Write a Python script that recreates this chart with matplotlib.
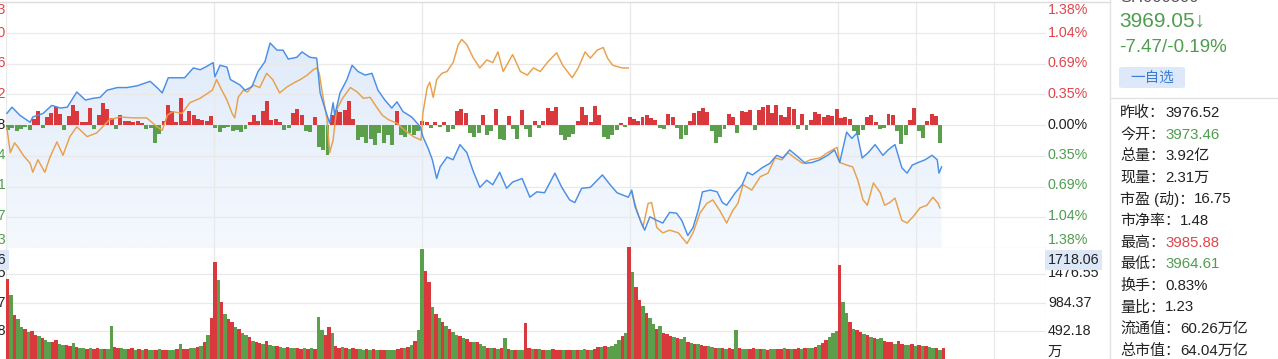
import numpy as np
import matplotlib
matplotlib.use("Agg")
import matplotlib.pyplot as plt
from matplotlib.colors import LinearSegmentedColormap
from matplotlib.patches import FancyBboxPatch
from matplotlib.lines import Line2D

plt.rcParams['font.family'] = ['Liberation Sans', 'Noto Sans CJK SC', 'DejaVu Sans']

# 5 trading days, 241 minutes each -> minute index 0..1204
N_MIN = 1205
DAY_LINES = [241, 482, 723, 964, 1054, 1145]

# index line (blue), minute index and % change
blue_t = [1, 7, 16, 28, 31, 43, 53, 63, 71, 82, 92, 101, 109, 117, 129, 140, 152, 167, 175, 181, 188, 198, 207, 217, 225, 233, 240,
          242, 248, 256, 260, 271, 277, 285, 292, 300, 306, 314, 321, 327, 337, 343, 352, 360, 364, 370, 375, 379, 381, 387, 395, 401,
          408, 416, 424, 431, 439, 447, 453, 460, 470, 480,
          483, 489, 494, 499, 503, 511, 518, 526, 534, 541, 549, 557, 564, 572, 580, 587, 598, 607, 615, 624, 636, 644, 653, 659, 667,
          677, 691, 700, 708, 721,
          725, 729, 735, 740, 746, 754, 761, 769, 777, 783, 790, 796, 802, 807, 816, 824, 830, 835, 845, 853, 859, 865, 876, 885, 893,
          900, 908, 918, 926, 934, 943, 952, 960,
          966, 974, 980, 986, 992, 999, 1007, 1016, 1022, 1030, 1038, 1044, 1050, 1057, 1065, 1073, 1079, 1081, 1084]
blue_v = [0.13, 0.20, 0.11, 0.03, 0.09, 0.13, 0.22, 0.19, 0.20, 0.37, 0.28, 0.30, 0.31, 0.39, 0.42, 0.42, 0.44, 0.49, 0.42, 0.36, 0.53,
          0.53, 0.53, 0.64, 0.62, 0.66, 0.70,
          0.54, 0.67, 0.65, 0.51, 0.45, 0.39, 0.43, 0.60, 0.71, 0.92, 0.84, 0.84, 0.74, 0.76, 0.82, 0.76, 0.75, 0.36, 0.17, 0.02, 0.25,
          0.11, 0.36, 0.51, 0.67, 0.60, 0.56, 0.58, 0.39, 0.28, 0.19, 0.26, 0.15, 0.09, -0.02,
          -0.13, -0.26, -0.39, -0.60, -0.47, -0.36, -0.39, -0.22, -0.31, -0.51, -0.70, -0.62, -0.67, -0.53, -0.71, -0.64, -0.60, -0.81,
          -0.75, -0.76, -0.54, -0.70, -0.84, -0.87, -0.71, -0.70, -0.56, -0.67, -0.76, -0.81,
          -0.73, -0.92, -1.07, -1.18, -1.03, -1.07, -1.10, -0.98, -0.99, -1.07, -1.24, -1.15, -0.96, -0.75, -0.73, -0.75, -0.87, -0.90,
          -0.76, -0.67, -0.53, -0.56, -0.48, -0.43, -0.34, -0.37, -0.28, -0.36, -0.43, -0.42, -0.39, -0.34, -0.28,
          -0.42, -0.08, -0.15, -0.09, -0.37, -0.31, -0.22, -0.34, -0.28, -0.22, -0.48, -0.54, -0.45, -0.42, -0.39, -0.34, -0.39, -0.54,
          -0.47]

# comparison line (orange), broken between day 3 and day 4
orange_t = [1, 5, 10, 14, 20, 28, 31, 37, 45, 51, 59, 66, 74, 82, 94, 105, 112, 120, 132, 147, 163, 175, 181, 187, 193, 204, 213, 225, 239,
            244, 250, 256, 262, 265, 269, 275, 280, 286, 294, 302, 309, 317, 326, 333, 341, 349, 356, 360, 363, 366, 372, 375, 379, 383,
            390, 399, 407, 414, 422, 428, 436, 443, 453, 462, 472, 481,
            483, 488, 491, 495, 499, 505, 511, 518, 524, 528, 534, 541, 549, 557, 564, 570, 576, 587, 596, 604, 611, 619, 628, 638, 645,
            656, 663, 671, 677, 685, 692, 697, 703, 714, 721,
            722,
            725, 732, 738, 744, 748, 754, 761, 769, 779, 789, 796, 804, 812, 819, 827, 835, 842, 848, 854, 864, 874, 883, 891, 899, 906,
            914, 923, 932, 943, 952, 963,
            966, 974, 981, 987, 993, 998, 1005, 1013, 1018, 1024, 1030, 1038, 1044, 1051, 1059, 1067, 1074, 1080, 1082]
orange_v = [-0.03, -0.31, -0.20, -0.25, -0.34, -0.43, -0.53, -0.39, -0.53, -0.36, -0.19, -0.34, -0.13, -0.02, -0.13, -0.09, -0.02, 0.06,
            0.09, 0.08, 0.08, -0.02, -0.06, 0.11, 0.15, 0.13, 0.25, 0.30, 0.39,
            0.51, 0.39, 0.28, 0.13, 0.08, 0.31, 0.39, 0.37, 0.45, 0.42, 0.58, 0.51, 0.36, 0.43, 0.47, 0.51, 0.56, 0.62, 0.64, 0.58, 0.39,
            0.06, -0.31, -0.17, 0.17, 0.30, 0.42, 0.37, 0.30, 0.31, 0.22, 0.11, 0.06, 0.02, -0.06, -0.13, -0.17,
            0.13, 0.42, 0.48, 0.31, 0.51, 0.58, 0.60, 0.70, 0.90, 0.96, 0.90, 0.76, 0.64, 0.73, 0.70, 0.82, 0.60, 0.79, 0.60, 0.56, 0.64,
            0.60, 0.71, 0.81, 0.67, 0.53, 0.64, 0.82, 0.75, 0.84, 0.87, 0.75, 0.67, 0.64, 0.64,
            np.nan,
            -0.76, -0.99, -1.15, -0.88, -0.87, -1.15, -1.21, -1.18, -1.21, -1.33, -1.21, -0.99, -0.88, -0.84, -0.96, -1.10, -0.96, -0.88,
            -0.67, -0.73, -0.58, -0.54, -0.37, -0.39, -0.31, -0.37, -0.43, -0.39, -0.37, -0.31, -0.25,
            -0.42, -0.45, -0.47, -0.62, -0.84, -0.90, -0.65, -0.76, -0.90, -0.87, -0.82, -1.07, -1.10, -1.03, -0.93, -0.90, -0.81, -0.88,
            -0.93]

# up/down strength bars, one per 5 minutes (axis range is +-123)
breadth = [-5, -3, -6, -4, -2, -5, 6, 14, -3, 8, 12, 18, 11, -5, 9, 20, 14, 3, 3, 17, -4, 10, 22, 16, 7, -4, 10, 4, 4, 3, 4, 2, -4, -3,
           -18, -9, 4, 20, 14, 3, 27, 4, 14, 10, 6, 5, 4, 9, -3,
           -7, -3, -2, -6, -5, -7, -4, 3, 10, 4, 14, 24, 5, 6, 3, -5, -3, 12, 16, 10, -6, -7, 8, -22, -25, -30, 10, 15, 13, 15, 24, 6,
           -15, -12, -18, -14, -20, -8, -18, -10, -20, 14, -10, -12, -8, -10, -6, 4,
           3, -3, 3, -2, 3, -7, -4, 14, 16, 12, -8, -12, -8, 10, -10, -6, 16, -14, -15, 9, -4, -14, 15, -4, -12, 4, -3, 4, 17, 14, 18,
           -10, -15, -12, -9, 4, 18, 10, 3, 19, 10, -12, -14, -10, -5, 2, -2, 8,
           6, 4, 8, 10, 7, 5, -3, -4, 11, 8, -3, -14, -10, 4, 12, 14, 17, 13, -6, -18, -12, -4, 11, 8, -8, 14, 13, 15, -5, 15, 18, 20,
           12, 20, 10, 8, 18, 16, -4, 11, -5, 5, 13, 11, 8, 10, 9, 16,
           7, 8, 6, -6, -10, -5, 8, 10, 3, -4, -3, 11, 10, -6, -19, -10, 5, 17, -6, -13, 4, 11, 9, -18]
BREADTH_RANGE = 123

# volume (万), one bar per 4 minutes, with up/down colour
volume = [1390, 1110, 760, 700, 560, 530, 470, 480, 420, 400, 360, 330, 300, 290, 330, 260, 240, 250, 230, 280,
          210, 190, 200, 180, 190, 170, 185, 175, 180, 170, 575, 210, 190, 195, 180, 170, 185, 165, 170, 160,
          175, 160, 165, 155, 170, 160, 165, 160, 155, 170, 270, 175, 180, 190, 200, 210, 220, 300, 420, 710,
          1690, 1380, 1000, 780, 700, 640, 560, 520, 450, 420, 380, 320, 300, 280, 270, 310, 250, 230, 220, 210,
          200, 215, 190, 185, 200, 180, 190, 175, 185, 180, 730, 510, 420, 560, 450, 230, 200, 210, 190, 180,
          195, 175, 180, 165, 170, 160, 175, 160, 150, 165, 160, 155, 165, 175, 185, 200, 215, 240, 320, 510,
          1925, 1530, 1345, 905, 790, 710, 640, 575, 520, 470, 420, 400, 370, 340, 300, 290, 300, 270, 220, 200,
          185, 190, 180, 185, 360, 170, 160, 165, 160, 155, 630, 200, 180, 170, 175, 160, 165, 155, 170, 160,
          150, 165, 155, 160, 150, 165, 160, 170, 155, 160, 175, 210, 215, 220, 215, 225, 260, 330, 400, 455,
          1950, 1520, 1260, 1030, 920, 800, 720, 610, 520, 570, 460, 430, 400, 380, 360, 340, 380, 300, 280, 270,
          260, 250, 230, 220, 210, 200, 195, 190, 180, 185, 180, 500, 190, 175, 180, 170, 185, 175, 170, 180,
          165, 175, 170, 180, 175, 185, 170, 180, 175, 185, 180, 190, 185, 200, 215, 240, 280, 330, 380, 460, 480,
          1640, 1000, 800, 650, 530, 500, 470, 430, 420, 380, 360, 340, 360, 320, 300, 290, 270, 310, 260, 250,
          240, 260, 230, 245, 220, 230, 210, 200, 190, 150, 190]
vol_updown = ("RGRGGRGRRGRGGRRG" "GRRGRGGRGRRGRGGR" "RGGRRGRGRGGRGRRG" "GRGRRGGRGRGRRGRG"
              "RRGRGGRGRRGRGGRG" "GRGGRRGRGRGGRRGR" "RGRGRRGGRGRGRRGG" "GRRGRGRGGRRGRGRG"
              "RGGRGRRGRGGRGRGR" "GRGRGGRRGRGRGGRR" "RGRRGRGGRGRRGRGG" "GGRGRGRRGRGGRGRR"
              "RGRGGRGRGRRGGRGR" "GRRGRGGRRGRGRGGR" "RGRGRRGRGGRGRRGG" "GRGGRGRRGRGRGGRR"
              "RGRRGGRGRGRGGRGRGRGR")

pct_ticks = [1.38, 1.035, 0.69, 0.345, 0.0, -0.345, -0.69, -1.035, -1.38]
pct_labels = ["1.38%", "1.04%", "0.69%", "0.35%", "0.00%", "0.35%", "0.69%", "1.04%", "1.38%"]
price_labels = ["4043.53", "4029.80", "4016.06", "4002.32", "3988.58", "3974.84", "3961.11", "3947.37", "3933.63"]
vol_ticks = [492.18, 984.37, 1476.55, 1968.74]
vol_labels = ["492.18", "984.37", "1476.55"]
vol_max_label = "1718.06"

info_labels = ["昨收：", "今开：", "总量：", "现量：", "市盈 (动)：", "市净率：", "最高：", "最低：", "换手：", "量比：", "流通值：", "总市值："]
info_values = ["3976.52", "3973.46", "3.92亿", "2.31万", "16.75", "1.48", "3985.88", "3964.61", "0.83%", "1.23", "60.26万亿", "64.04万亿"]
info_kind = ["", "down", "", "", "", "", "up", "down", "", "", "", ""]

RED = '#e0454b'
GREEN = '#4f9d4f'
BLACK = '#222222'
BLUE = '#4a8fe7'
ORANGE = '#e9a04b'
GRID = '#e9e9e9'
BAR_RED = '#d9393c'
BAR_GREEN = '#5b9e4b'

W_PX, H_PX = 1278, 359


def fx(x):
    return x / W_PX


def fy(y):
    return 1 - y / H_PX


def put(x, y, s, **kw):
    return fig.text(fx(x), fy(y), s, **kw)


fig = plt.figure(figsize=(12.78, 3.59), dpi=100)
fig.patch.set_facecolor('white')

left = fx(6)
width = fx(1046) - fx(6)
ax = fig.add_axes([left, fy(248), width, fy(2) - fy(248)])
axv = fig.add_axes([left, 0, width, fy(246)])
for a in (ax, axv):
    a.set_axis_off()
    a.set_xlim(0, N_MIN)
ax.set_ylim(-1.38, 1.38)
axv.set_ylim(0, vol_ticks[-1])

#Grid lines
for yv in pct_ticks[1:-1]:
    ax.axhline(yv, color=GRID, lw=0.9, zorder=1.5)
ax.axhline(-1.38, color=GRID, lw=0.9, zorder=1.5)
for yv in vol_ticks[:-1]:
    axv.axhline(yv, color=GRID, lw=0.9, zorder=0)
for m in [0] + DAY_LINES + [N_MIN]:
    ax.axvline(m, color=GRID, lw=0.9, zorder=1.5)
    axv.axvline(m, color=GRID, lw=0.9, zorder=0)
fig.add_artist(Line2D([0, fx(1110)], [fy(1.8)] * 2, color='#dcdcdc', lw=1.0))

#Gradient fill under the index line
fill = ax.fill_between(blue_t, blue_v, -1.38, color='none', lw=0)
cmap = LinearSegmentedColormap.from_list('bluefill', ['#f5f9fe', '#dce8f9'])
grad = np.linspace(0, 1, 200).reshape(-1, 1)
img = ax.imshow(grad, extent=[0, N_MIN, -1.38, 1.38], origin='lower', aspect='auto', cmap=cmap, zorder=1)
img.set_clip_path(fill.get_paths()[0], transform=ax.transData)
ax.set_xlim(0, N_MIN)
ax.set_ylim(-1.38, 1.38)

#Up/down bars around the zero line
scale = 1.38 / BREADTH_RANGE
bx = [5 * i + 2.5 for i in range(len(breadth))]
bh = [b * scale for b in breadth]
bc = [BAR_RED if b > 0 else BAR_GREEN for b in breadth]
ax.bar(bx, bh, width=4.6, color=bc, lw=0, zorder=2)

#Lines
ax.plot(orange_t, orange_v, color=ORANGE, lw=1.05, zorder=3)
ax.plot(blue_t, blue_v, color=BLUE, lw=1.05, zorder=4)

#Volume bars
vx = [4 * i + 2 for i in range(len(volume))]
vc = [BAR_RED if vol_updown[i] == 'R' else BAR_GREEN for i in range(len(volume))]
axv.bar(vx, volume, width=4, color=vc, lw=0, zorder=2)

#Axis labels on the right
label_y = [10, 33, 63, 94, 125, 155, 185, 216, 240]
for i, (y, s) in enumerate(zip(label_y, pct_labels)):
    col = RED if i < 4 else (BLACK if i == 4 else GREEN)
    put(1048, y, s, fontsize=10.3, color=col, va='center', ha='left')
    put(6, y, price_labels[i], fontsize=10.3, color=col, va='center', ha='right')

vol_y = [331, 303, 273]
for y, s in zip(vol_y, vol_labels):
    put(1048, y, s, fontsize=10.3, color=BLACK, va='center', ha='left', zorder=1)
    put(6, y, s, fontsize=10.3, color=BLACK, va='center', ha='right', zorder=1)
box = dict(boxstyle='square,pad=0.18', fc='#dce8f8', ec='none')
put(1048, 260, vol_max_label, fontsize=10.3, color=BLACK, va='center', ha='left', bbox=box, zorder=5)
put(6, 260, vol_max_label, fontsize=10.3, color=BLACK, va='center', ha='right', bbox=box, zorder=5)
put(1048, 352, "万", fontsize=10.3, color=BLACK, va='center', ha='left')

#Right info panel
fig.add_artist(Line2D([fx(1110)] * 2, [0, 1], color='#e3e3e3', lw=1.0))
fig.add_artist(Line2D([fx(1110), 1], [fy(98)] * 2, color='#e3e3e3', lw=1.0))

put(1120, 2.5, "SH000300", fontsize=12, color='#555555', va='baseline', ha='left')
put(1119, 21, "3969.05↓", fontsize=15, color=GREEN, va='center', ha='left')
put(1119, 48, "-7.47/-0.19%", fontsize=13.5, color=GREEN, va='center', ha='left')

btn = FancyBboxPatch((fx(1119), fy(88)), fx(1185) - fx(1119), fy(67) - fy(88),
                     boxstyle='round,pad=0,rounding_size=0.004', transform=fig.transFigure,
                     fc='#dde9fa', ec='none')
fig.patches.append(btn)
put(1152, 77.5, "一自选", fontsize=10.5, color='#3a7bd5', va='center', ha='center')

renderer = fig.canvas.get_renderer()
for i, (lab, val, kind) in enumerate(zip(info_labels, info_values, info_kind)):
    y = 113 + i * 21.6
    t = put(1120, y, lab, fontsize=10.8, color=BLACK, va='center', ha='left')
    bb = t.get_window_extent(renderer)
    col = RED if kind == 'up' else (GREEN if kind == 'down' else BLACK)
    fig.text(bb.x1 / fig.bbox.width, fy(y), val, fontsize=10.8, color=col, va='center', ha='left')

fig.savefig("out.png", dpi=100)
